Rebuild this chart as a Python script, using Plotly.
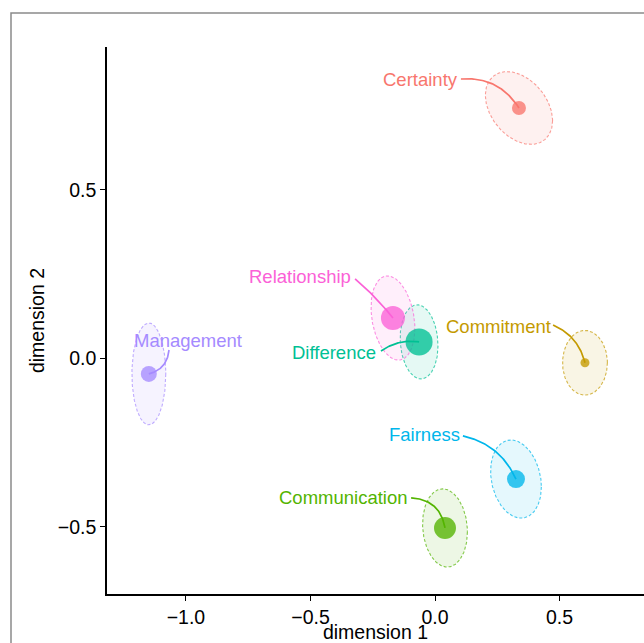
import numpy as np
import plotly.graph_objects as go

# ---- data ----
categories = ["Certainty", "Commitment", "Communication", "Difference",
              "Fairness", "Management", "Relationship"]
colors = ["#F8766D", "#C49A00", "#53B400", "#00C094", "#00B6EB", "#A58AFF", "#FB61D7"]
dim1 = [0.337, 0.602, 0.040, -0.064, 0.325, -1.149, -0.169]
dim2 = [0.743, -0.013, -0.503, 0.049, -0.358, -0.046, 0.120]
point_size = [14, 9, 22, 27, 18, 16, 24]
# ellipse half-extents (data units) and correlation
ell_rx = [0.135, 0.090, 0.090, 0.076, 0.102, 0.068, 0.088]
ell_ry = [0.108, 0.096, 0.116, 0.110, 0.116, 0.151, 0.125]
ell_r = [-0.35, 0.0, -0.10, -0.10, -0.20, 0.0, -0.25]
# label positions and leader start points (data units)
label_x = [-0.060, 0.253, -0.369, -0.406, -0.044, -0.992, -0.542]
label_y = [0.829, 0.096, -0.414, 0.019, -0.227, 0.052, 0.242]
lead_x = [0.104, 0.474, -0.096, -0.217, 0.112, -1.068, -0.321]
lead_y = [0.829, 0.099, -0.414, 0.022, -0.230, 0.025, 0.236]
curvature = [-0.30, -0.25, -0.40, -0.20, -0.25, -0.35, -0.05]

x_tickvals = [-1.0, -0.5, 0.0, 0.5]
x_ticktext = ["\u22121.0", "\u22120.5", "0.0", "0.5"]
y_tickvals = [-0.5, 0.0, 0.5]
y_ticktext = ["\u22120.5", "0.0", "0.5"]

# ---- layout geometry ----
W, H = 644, 643
ML, MR, MT, MB = 107, 0, 47, 49
xr = [-1.317, 0.839]
yr = [-0.699, 0.924]
kx = (W - ML - MR) / (xr[1] - xr[0])
ky = (H - MT - MB) / (yr[1] - yr[0])

FONT = "Liberation Sans, Arial, Helvetica, sans-serif"


def rgba(hexc, a):
    h = hexc.lstrip("#")
    return "rgba(%d,%d,%d,%.3f)" % (int(h[0:2], 16), int(h[2:4], 16), int(h[4:6], 16), a)


fig = go.Figure()

# ellipses
t = np.linspace(0, 2 * np.pi, 200)
for i, c in enumerate(categories):
    d = np.arccos(ell_r[i])
    ex = dim1[i] + ell_rx[i] * np.cos(t)
    ey = dim2[i] + ell_ry[i] * np.cos(t + d)
    fig.add_trace(go.Scatter(
        x=ex, y=ey, mode="lines", fill="toself",
        fillcolor=rgba(colors[i], 0.10),
        line=dict(color=rgba(colors[i], 0.7), width=1.1, dash="3px,2px"),
        hoverinfo="skip", showlegend=False))

# leader lines (quadratic bezier computed in pixel space)
s = np.linspace(0, 1, 60)
for i, c in enumerate(categories):
    p0 = np.array([lead_x[i] * kx, -lead_y[i] * ky])
    p1 = np.array([dim1[i] * kx, -dim2[i] * ky])
    dvec = p1 - p0
    perp = np.array([-dvec[1], dvec[0]])
    ctrl = (p0 + p1) / 2 + curvature[i] * perp
    pts = ((1 - s) ** 2)[:, None] * p0 + (2 * (1 - s) * s)[:, None] * ctrl + (s ** 2)[:, None] * p1
    fig.add_trace(go.Scatter(
        x=pts[:, 0] / kx, y=-pts[:, 1] / ky, mode="lines",
        line=dict(color=colors[i], width=1.7),
        hoverinfo="skip", showlegend=False))

# points
for i, c in enumerate(categories):
    fig.add_trace(go.Scatter(
        x=[dim1[i]], y=[dim2[i]], mode="markers",
        marker=dict(color=colors[i], size=point_size[i], opacity=0.78, line=dict(width=0)),
        name=c, showlegend=False))

# labels
for i, c in enumerate(categories):
    fig.add_annotation(x=label_x[i], y=label_y[i], text=c, showarrow=False,
                       xanchor="center", yanchor="middle",
                       font=dict(family=FONT, size=18.5, color=colors[i]))

# outer border
fig.add_shape(type="rect", xref="paper", yref="paper",
              x0=(11 - ML) / (W - ML - MR), x1=1.3,
              y0=-0.3, y1=(H - MB - 13) / (H - MT - MB),
              line=dict(color="#8a8a8a", width=1.5), fillcolor="rgba(0,0,0,0)", layer="below")

axis_common = dict(showline=True, linecolor="black", linewidth=1.5, mirror=False,
                   ticks="outside", ticklen=5, tickwidth=1.2, tickcolor="black",
                   showgrid=False, zeroline=False,
                   tickfont=dict(family=FONT, size=19.5, color="black"))

fig.update_layout(
    width=W, height=H,
    margin=dict(l=ML, r=MR, t=MT, b=MB, autoexpand=False),
    paper_bgcolor="white", plot_bgcolor="white",
    showlegend=False,
    xaxis=dict(range=xr, tickvals=x_tickvals, ticktext=x_ticktext,
               title=dict(text="dimension 1", standoff=11,
                          font=dict(family=FONT, size=19.5, color="black")),
               **axis_common),
    yaxis=dict(range=yr, tickvals=y_tickvals, ticktext=y_ticktext,
               title=dict(text="dimension 2", standoff=8,
                          font=dict(family=FONT, size=19.5, color="black")),
               **axis_common),
)

fig.write_html("out.html")
